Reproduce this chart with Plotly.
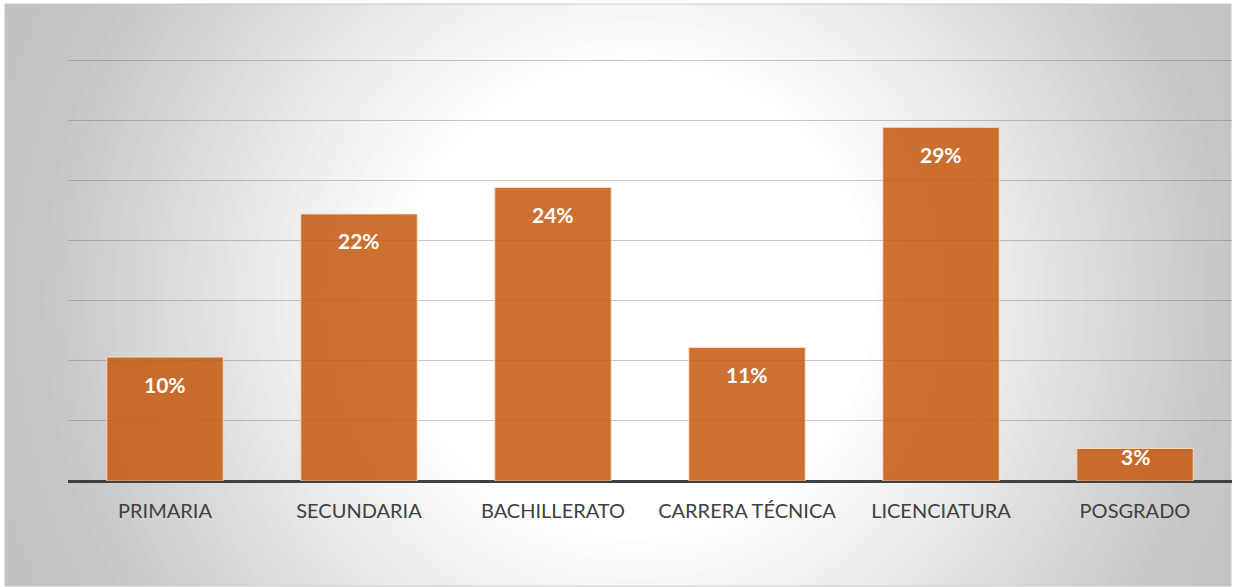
import plotly.graph_objects as go

# ---- data ----
categories = ["PRIMARIA", "SECUNDARIA", "BACHILLERATO", "CARRERA TÉCNICA", "LICENCIATURA", "POSGRADO"]
values = [10.3, 22.2, 24.4, 11.1, 29.4, 2.7]
y_ticks = [0, 5, 10, 15, 20, 25, 30, 35]

W, H = 1233, 587
ML, MR, MT, MB = 68, 1, 54, 106
PW, PH = W - ML - MR, H - MT - MB


def px(x):
    return (x - ML) / PW


def py(y):
    return (H - MB - y) / PH


shapes = []
# chart area base
shapes.append(dict(type="rect", xref="paper", yref="paper", layer="below",
                   x0=px(5), x1=px(1231), y0=py(586), y1=py(4),
                   fillcolor="#bfbfbf", line=dict(width=0)))
# radial gradient via concentric circles
cx, cy = 635, 300
r_out, r_in = 720, 240
n = 48
for i in range(n + 1):
    r = r_out - (r_out - r_in) * i / n
    if r > 600:
        c = 192 + (198 - 192) * (r_out - r) / (r_out - 600)
    else:
        c = 198 + (255 - 198) * (600 - r) / (600 - r_in)
    c = int(round(c))
    shapes.append(dict(type="circle", xref="paper", yref="paper", layer="below",
                       x0=px(cx - r), x1=px(cx + r), y0=py(cy + r), y1=py(cy - r),
                       fillcolor=f"rgb({c},{c},{c})", line=dict(width=0)))
# white margins outside chart area
for (x0, x1, y0, y1) in [(-5, 5, -5, H + 5), (-5, W + 5, -400, 4), (1231, W + 400, -5, H + 5),
                         (-5, W + 5, 586, H + 400)]:
    shapes.append(dict(type="rect", xref="paper", yref="paper", layer="below",
                       x0=px(x0), x1=px(x1), y0=py(y1), y1=py(y0),
                       fillcolor="white", line=dict(width=0)))
# chart border
shapes.append(dict(type="rect", xref="paper", yref="paper", layer="below",
                   x0=px(5), x1=px(1231), y0=py(586), y1=py(4),
                   fillcolor="rgba(0,0,0,0)", line=dict(width=1, color="#c8c8c8")))

fig = go.Figure()
fig.add_trace(go.Bar(
    x=categories, y=values,
    marker=dict(color="rgba(197,90,17,0.86)",
                line=dict(color="rgba(255,225,200,0.85)", width=1)),
    hoverinfo="x+y",
))

annotations = []
for c, v in zip(categories, values):
    annotations.append(dict(x=c, y=v, xref="x", yref="y", text=f"<b>{v:.0f}%</b>",
                            showarrow=False, yanchor="middle",
                            yshift=-27 if v > 5 else -8,
                            font=dict(family="Lato", size=21, color="white")))

fig.update_layout(
    width=W, height=H,
    margin=dict(l=ML, r=MR, t=MT, b=MB),
    paper_bgcolor="white",
    plot_bgcolor="rgba(0,0,0,0)",
    bargap=0.4,
    showlegend=False,
    shapes=shapes,
    annotations=annotations,
    xaxis=dict(showgrid=False, showline=False, ticks="", ticklabelstandoff=16,
               tickfont=dict(family="Lato", size=20, color="#404040")),
    yaxis=dict(range=[0, 35.5], tickvals=y_ticks, showticklabels=False,
               showgrid=True, gridcolor="rgba(110,110,110,0.38)", gridwidth=1,
               zeroline=True, zerolinecolor="#404040", zerolinewidth=3,
               fixedrange=True),
)

fig.write_html("out.html", config={"displayModeBar": False},
               post_script="document.body.style.margin='0';document.body.style.overflow='hidden';")
